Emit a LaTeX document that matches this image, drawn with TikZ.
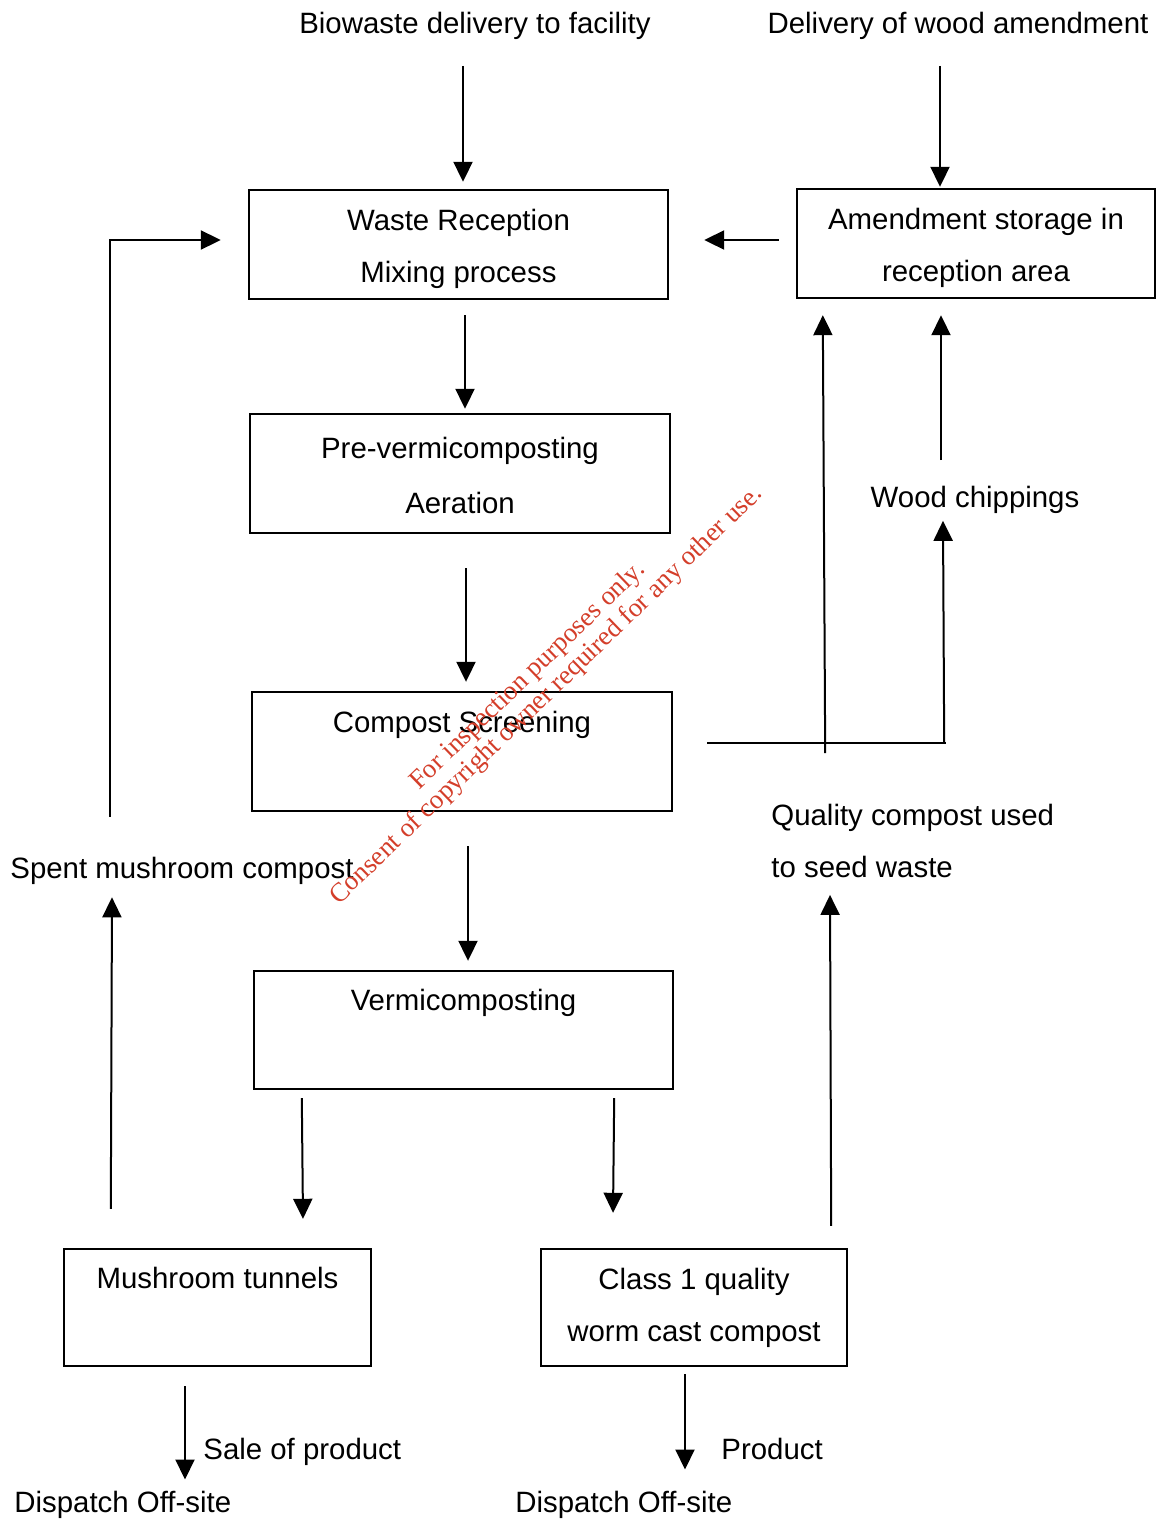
\documentclass[tikz,border=0pt]{standalone}
\usepackage{fontspec}
\setmainfont{Liberation Sans}
\newfontfamily\wmfont{Liberation Serif}
\usepackage{tikz}
\usetikzlibrary{arrows.meta}
\definecolor{wmred}{RGB}{212,62,42}
\newcommand{\toppad}[1]{\rule{0pt}{#1}}
\newcommand{\botpad}{\rule[-4pt]{0pt}{4pt}}
\tikzset{
  procbox/.style={draw, line width=1.2pt, inner sep=0pt, align=center, font=\fontsize{14.7}{26}\selectfont},
  lbl/.style={inner sep=0pt, text height=10.8pt, text depth=3.2pt, font=\fontsize{14.7}{26}\selectfont},
  flow/.style={line width=1pt, -{Triangle[length=10pt,width=9.5pt]}},
  rule/.style={line width=1pt},
  wmark/.style={text=wmred, align=center, inner sep=0pt, font=\wmfont\fontsize{13.4}{13.5}\selectfont},
}

\begin{document}
\begin{tikzpicture}[x=0.5pt,y=0.5pt,yscale=-1,xscale=1]
    \path[use as bounding box, fill=white] (0,0) rectangle (1157,1521);

    %Shape: Rectangle [waste]
    \node[procbox, minimum width=209.5pt, minimum height=54.5pt] (waste) at (458.5,244.5) {\toppad{14.7pt}Waste Reception\\Mixing process};
    %Shape: Rectangle [amend]
    \node[procbox, minimum width=179pt, minimum height=54.5pt] (amend) at (976,243.5) {\toppad{14.7pt}Amendment storage in\\reception area};
    %Shape: Rectangle [prevermi]
    \node[procbox, font=\fontsize{14.7}{27.5}\selectfont, minimum width=210pt, minimum height=59.5pt] (prevermi) at (460,473.5) {\toppad{12.7pt}Pre-vermicomposting\\Aeration};
    %Shape: Rectangle [screen]
    \node[procbox, minimum width=210pt, minimum height=59.5pt] (screen) at (462,751.5) {Compost Screening\\[0pt]\botpad};
    %Shape: Rectangle [vermi]
    \node[procbox, minimum width=209.5pt, minimum height=59pt] (vermi) at (463.5,1030) {Vermicomposting\\[0pt]\botpad};
    %Shape: Rectangle [mush]
    \node[procbox, minimum width=153.5pt, minimum height=58.5pt] (mush) at (217.5,1307.5) {Mushroom tunnels\\[0pt]\botpad};
    %Shape: Rectangle [class]
    \node[procbox, minimum width=153pt, minimum height=58.5pt] (class) at (694,1307.5) {Class 1 quality\\worm cast compost};

    % Text Node
    \node[lbl, anchor=base] (biowaste) at (475,33) {Biowaste delivery to facility};
    % Text Node
    \node[lbl, anchor=base] (woodin) at (958,33) {Delivery of wood amendment};
    % Text Node
    \node[lbl, anchor=base] (chips) at (975,507) {Wood chippings};
    % Text Node
    \node[inner sep=0pt, align=left, anchor=north west, font=\fontsize{14.7}{26}\selectfont] (quality) at (771,804) {Quality compost used\\to seed waste};
    % Text Node
    \node[lbl, anchor=base west] (spent) at (10,878.5) {Spent mushroom compost};
    % Text Node
    \node[lbl, anchor=base west] (sale) at (203,1459.5) {Sale of product};
    % Text Node
    \node[lbl, anchor=base west] (dispA) at (14,1512.5) {Dispatch Off-site};
    % Text Node
    \node[lbl, anchor=base west] (product) at (721,1459.5) {Product};
    % Text Node
    \node[lbl, anchor=base west] (dispB) at (515,1512.5) {Dispatch Off-site};

    %Straight Lines [deliveries]
    \draw[flow] ([shift={(-12,26)}]biowaste.south) -- ([shift={(4.5,-7)}]waste.north);
    \draw[flow] ([shift={(-18,26)}]woodin.south) -- ([shift={(-36,-1)}]amend.north);
    \draw[flow] ([shift={(-17,-3.5)}]amend.west) -- ([shift={(35,-4.5)}]waste.east);
    %Straight Lines [main line]
    \draw[flow] ([shift={(6.5,15)}]waste.south) -- ([shift={(5,-4)}]prevermi.north);
    \draw[flow] ([shift={(6,34)}]prevermi.south) -- ([shift={(4,-9)}]screen.north);
    \draw[flow] ([shift={(6,34)}]screen.south) -- ([shift={(4.5,-9)}]vermi.north);
    \draw[flow] ([shift={(49,8)}]vermi.south west) -- ([shift={(85.5,-29)}]mush.north);
    \draw[flow] ([shift={(-60,8)}]vermi.south east) -- ([shift={(-81,-35)}]class.north);
    \draw[flow] ([shift={(-32.5,19)}]mush.south) -- ([shift={(171,-11)}]dispA.north west);
    \draw[flow] ([shift={(-9,7)}]class.south) -- ([shift={(170,-21)}]dispB.north west);
    %Straight Lines [returns]
    \draw[flow] ([shift={(48,-39)}]mush.north west) -- ([shift={(102,12)}]spent.south west);
    \draw[flow] ([shift={(100,-40)}]spent.north west) |- ([shift={(-27,-4.5)}]waste.west);
    \draw[flow] ([shift={(-17,-22)}]class.north east) -- ([shift={(59,16.5)}]quality.south west);
    \draw[rule] ([shift={(34,-8.5)}]screen.east) -- ([shift={(273,-8.5)}]screen.east);
    \draw[flow] ([shift={(152,1.5)}]screen.east) -- ([shift={(27,16)}]amend.south west);
    \draw[flow] ([shift={(271,-8.5)}]screen.east) -- ([shift={(-32,7)}]chips.south);
    \draw[flow] ([shift={(-34,-25)}]chips.north) -- ([shift={(-35,16)}]amend.south);

    % Text Node [watermark]
    \node[wmark, rotate=44] (stamp) at (537.5,686) {For inspection purposes only.\\Consent of copyright owner required for any other use.};

\end{tikzpicture}
\end{document}
